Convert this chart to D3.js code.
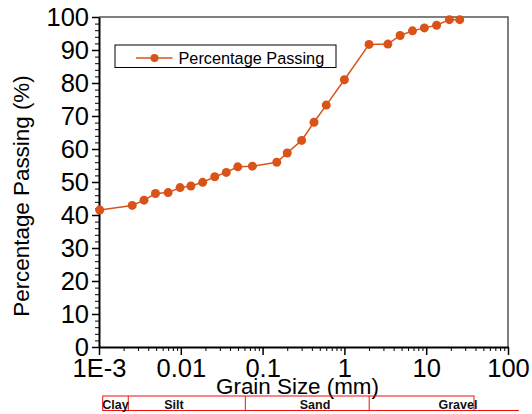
<!DOCTYPE html>
<html>
<head>
<meta charset="utf-8">
<script src="https://cdn.jsdelivr.net/npm/d3@7"></script>
<style>
  html, body { margin: 0; padding: 0; background: #fff; }
  svg { display: block; font-family: "Liberation Sans", Arial, sans-serif; }
</style>
</head>
<body>
<svg id="chart" width="532" height="414"></svg>
<script>
// ---- data ----
const grainSize = [0.00102, 0.00255, 0.00355, 0.0049, 0.007, 0.0098, 0.0133, 0.0185, 0.026, 0.036, 0.0497, 0.075,
                   0.149, 0.2, 0.30, 0.425, 0.6, 1.0, 2.0, 3.4, 4.8, 6.8, 9.5, 13.4, 19.2, 25.7];
const percentPassing = [41.5, 42.9, 44.5, 46.5, 46.8, 48.3, 48.8, 49.9, 51.6, 52.9, 54.6, 54.8,
                        56.0, 58.8, 62.6, 68.1, 73.3, 81.0, 91.7, 91.8, 94.4, 95.8, 96.7, 97.5, 99.2, 99.2];
const xTickValues = [0.001, 0.01, 0.1, 1, 10, 100];
const xTickLabels = ["1E-3", "0.01", "0.1", "1", "10", "100"];
const yTickValues = [0, 10, 20, 30, 40, 50, 60, 70, 80, 90, 100];
const soilClasses = ["Clay", "Silt", "Sand", "Gravel"];
const soilBounds = [0.00111, 0.00228, 0.0615, 2.01, 38.4]; // band edges in grain size (mm)
const seriesName = "Percentage Passing";

// ---- layout ----
const svg = d3.select("#chart");
const pL = 99, pR = 508, pT = 17, pB = 347;
const color = "#D95319";
const tickFont = 25.5;

const x = d3.scaleLog().domain([0.001, 100]).range([pL, pR]);
const y = d3.scaleLinear().domain([0, 100]).range([pB, pT]);

// frame (top & right)
svg.append("path")
  .attr("d", `M${pL},${pT}H${pR}V${pB}`)
  .attr("fill", "none").attr("stroke", "#555").attr("stroke-width", 1.5);

// minor ticks
const xMinor = [];
for (let e = -3; e < 2; e++) for (let m = 2; m <= 9; m++) xMinor.push(m * Math.pow(10, e));
const yMinor = d3.range(0, 101, 2).filter(v => v % 10 !== 0);

svg.append("g").attr("transform", `translate(0,${pB})`)
  .call(d3.axisBottom(x).tickValues(xMinor).tickSize(4).tickFormat(""))
  .call(g => g.select(".domain").remove())
  .selectAll("line").attr("stroke", "#000").attr("stroke-width", 1);

svg.append("g").attr("transform", `translate(${pL},0)`)
  .call(d3.axisLeft(y).tickValues(yMinor).tickSize(4).tickFormat(""))
  .call(g => g.select(".domain").remove())
  .selectAll("line").attr("stroke", "#000").attr("stroke-width", 1);

// major axes
const xAxis = svg.append("g").attr("transform", `translate(0,${pB})`)
  .call(d3.axisBottom(x).tickValues(xTickValues).tickSize(8).tickSizeOuter(0).tickPadding(4)
    .tickFormat((d, i) => xTickLabels[i]));
xAxis.select(".domain").attr("stroke", "#000").attr("stroke-width", 2);
xAxis.selectAll(".tick line").attr("stroke", "#000").attr("stroke-width", 1.5);
xAxis.selectAll("text").attr("font-size", tickFont).attr("fill", "#000")
  .attr("font-family", "Liberation Sans, Arial, sans-serif");

const yAxis = svg.append("g").attr("transform", `translate(${pL},0)`)
  .call(d3.axisLeft(y).tickValues(yTickValues).tickSize(7).tickSizeOuter(0).tickPadding(3));
yAxis.select(".domain").attr("stroke", "#000").attr("stroke-width", 2);
yAxis.selectAll(".tick line").attr("stroke", "#000").attr("stroke-width", 1.5);
yAxis.selectAll("text").attr("font-size", tickFont).attr("fill", "#000")
  .attr("font-family", "Liberation Sans, Arial, sans-serif");

// axis titles
svg.append("text")
  .attr("transform", `translate(29,196) rotate(-90)`)
  .attr("text-anchor", "middle").attr("font-size", 22.4).attr("fill", "#000")
  .text("Percentage Passing (%)");
svg.append("text")
  .attr("x", 297.5).attr("y", 394)
  .attr("text-anchor", "middle").attr("font-size", 22.4).attr("fill", "#000")
  .text("Grain Size (mm)");

// series
const data = grainSize.map((g, i) => ({ g, p: percentPassing[i] }));
svg.append("path").datum(data)
  .attr("d", d3.line().x(d => x(d.g)).y(d => y(d.p)))
  .attr("fill", "none").attr("stroke", color).attr("stroke-width", 1.5);
svg.append("g").selectAll("circle").data(data).join("circle")
  .attr("cx", d => x(d.g)).attr("cy", d => y(d.p)).attr("r", 4.5)
  .attr("fill", color);

// legend
const lg = svg.append("g");
lg.append("rect").attr("x", 115).attr("y", 45).attr("width", 221).attr("height", 22.5)
  .attr("fill", "#fff").attr("stroke", "#000").attr("stroke-width", 1);
lg.append("line").attr("x1", 136).attr("x2", 172.5).attr("y1", 58).attr("y2", 58)
  .attr("stroke", color).attr("stroke-width", 1.5);
lg.append("circle").attr("cx", 154.5).attr("cy", 58).attr("r", 4).attr("fill", color);
lg.append("text").attr("x", 178.5).attr("y", 64).attr("font-size", 16.3).attr("fill", "#000")
  .text(seriesName);

// soil classification bar
const barTop = 396, barBottom = 410.5;
const sb = svg.append("g");
sb.append("rect")
  .attr("x", x(soilBounds[0])).attr("y", barTop)
  .attr("width", x(soilBounds[soilBounds.length - 1]) - x(soilBounds[0]))
  .attr("height", barBottom - barTop)
  .attr("fill", "none").attr("stroke", "#f01010").attr("stroke-width", 1);
sb.selectAll("line.div").data(soilBounds.slice(1, -1)).join("line")
  .attr("x1", d => x(d)).attr("x2", d => x(d)).attr("y1", barTop).attr("y2", barBottom)
  .attr("stroke", "#f01010").attr("stroke-width", 1);
sb.append("line")
  .attr("x1", x(soilBounds[soilBounds.length - 1])).attr("x2", 519)
  .attr("y1", barBottom).attr("y2", barBottom)
  .attr("stroke", "#f01010").attr("stroke-width", 1);
const labelCenters = [115.5, 174, 315, 458];
sb.selectAll("text").data(soilClasses).join("text")
  .attr("x", (d, i) => labelCenters[i]).attr("y", 409)
  .attr("text-anchor", "middle").attr("font-size", 12.5).attr("font-weight", "bold")
  .attr("fill", "#111").text(d => d);
</script>
</body>
</html>
